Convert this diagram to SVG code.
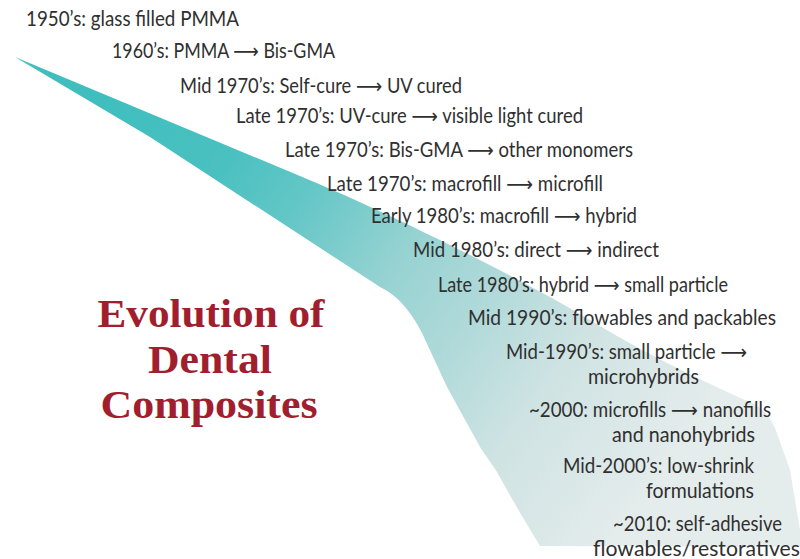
<svg xmlns="http://www.w3.org/2000/svg" width="800" height="559" viewBox="0 0 800 559">
<style>
.t{font-family:Lato,"Open Sans","DejaVu Sans",sans-serif;font-size:20.5px;fill:#303030}
.h{font-family:"Liberation Serif","DejaVu Serif",serif;font-size:40px;font-weight:bold;fill:#a01e2d;text-anchor:middle}
</style>
<defs>
<linearGradient id="g" gradientUnits="userSpaceOnUse" x1="100" y1="100" x2="650" y2="500">
<stop offset="0" stop-color="#40bebe"/>
<stop offset="0.2" stop-color="#4ac0c0"/>
<stop offset="0.32" stop-color="#62c6c6"/>
<stop offset="0.49" stop-color="#96d2d2"/>
<stop offset="0.63" stop-color="#b0d9d9"/>
<stop offset="0.78" stop-color="#cfe3e3"/>
<stop offset="1" stop-color="#e5ecec"/>
</linearGradient>
</defs>
<rect width="800" height="559" fill="#ffffff"/>
<g id="swoosh">
<path d="M15,57 L300,176 C380,209 520,277 600,326 Q660,362 745,400 Q765,406 775,428 L790,470 L800,530 L800,547 L540,546 Q515,505 497,472 L480,447 L447,387 L422,333 Q404,298 380,287 L150,137 Z" fill="url(#g)"/>
</g>
<g id="title">
<text class="h" x="211" y="327" textLength="227" lengthAdjust="spacingAndGlyphs">Evolution of</text>
<text class="h" x="210" y="373" textLength="124" lengthAdjust="spacingAndGlyphs">Dental</text>
<text class="h" x="209" y="418" textLength="217" lengthAdjust="spacingAndGlyphs">Composites</text>
</g>
<g id="timeline">
<text id="e1950" class="t" x="26" y="26" textLength="213" lengthAdjust="spacingAndGlyphs">1950’s: glass filled PMMA</text>
<text id="e1960" class="t" x="112" y="58" textLength="223" lengthAdjust="spacingAndGlyphs">1960’s: PMMA ⟶ Bis-GMA</text>
<text id="e1970a" class="t" x="180" y="93" textLength="282" lengthAdjust="spacingAndGlyphs">Mid 1970’s: Self-cure ⟶ UV cured</text>
<text id="e1970b" class="t" x="236" y="123" textLength="347" lengthAdjust="spacingAndGlyphs">Late 1970’s: UV-cure ⟶ visible light cured</text>
<text id="e1970c" class="t" x="285" y="157" textLength="348" lengthAdjust="spacingAndGlyphs">Late 1970’s: Bis-GMA ⟶ other monomers</text>
<text id="e1970d" class="t" x="327" y="191" textLength="276" lengthAdjust="spacingAndGlyphs">Late 1970’s: macrofill ⟶ microfill</text>
<text id="e1980a" class="t" x="371" y="223" textLength="266" lengthAdjust="spacingAndGlyphs">Early 1980’s: macrofill ⟶ hybrid</text>
<text id="e1980b" class="t" x="413" y="257" textLength="246" lengthAdjust="spacingAndGlyphs">Mid 1980’s: direct ⟶ indirect</text>
<text id="e1980c" class="t" x="438" y="292" textLength="290" lengthAdjust="spacingAndGlyphs">Late 1980’s: hybrid ⟶ small particle</text>
<text id="e1990a" class="t" x="468" y="325" textLength="308" lengthAdjust="spacingAndGlyphs">Mid 1990’s: flowables and packables</text>
<g id="e1990b">
<text class="t" x="506" y="359" textLength="241" lengthAdjust="spacingAndGlyphs">Mid-1990’s: small particle ⟶</text>
<text class="t" x="588" y="384" textLength="111" lengthAdjust="spacingAndGlyphs">microhybrids</text>
</g>
<g id="e2000a">
<text class="t" x="529" y="417" textLength="242" lengthAdjust="spacingAndGlyphs">~2000: microfills ⟶ nanofills</text>
<text class="t" x="612" y="442" textLength="143" lengthAdjust="spacingAndGlyphs">and nanohybrids</text>
</g>
<g id="e2000b">
<text class="t" x="563" y="473" textLength="191" lengthAdjust="spacingAndGlyphs">Mid-2000’s: low-shrink</text>
<text class="t" x="646" y="498" textLength="108" lengthAdjust="spacingAndGlyphs">formulations</text>
</g>
<g id="e2010">
<text class="t" x="613" y="531" textLength="169" lengthAdjust="spacingAndGlyphs">~2010: self-adhesive</text>
<text class="t" x="593" y="556" textLength="207" lengthAdjust="spacingAndGlyphs">flowables/restoratives</text>
</g>
</g>
</svg>
